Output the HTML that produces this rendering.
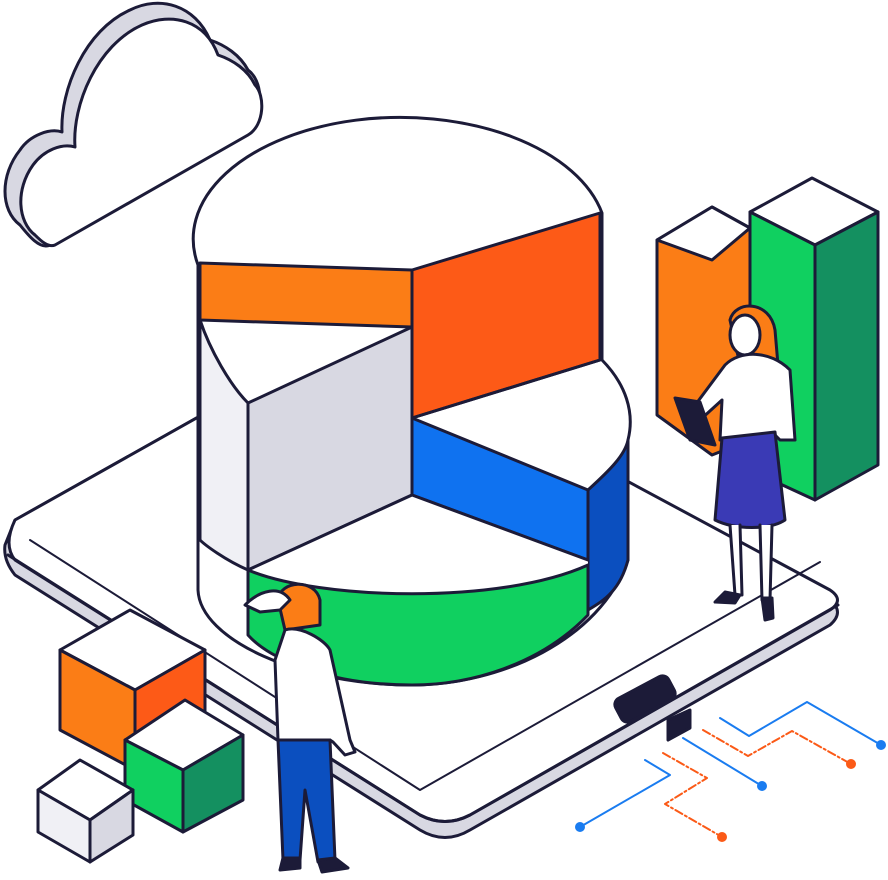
<!DOCTYPE html>
<html><head><meta charset="utf-8"><style>html,body{margin:0;padding:0;background:#fff}svg{display:block}</style></head>
<body>
<svg width="888" height="880" viewBox="0 0 888 880" xmlns="http://www.w3.org/2000/svg" stroke="#1c1b38" stroke-width="3" stroke-linejoin="round" stroke-linecap="round">
<!-- circuit lines -->
<g fill="none" stroke-width="2">
<polyline points="720,718 749,736 807,702 881,745" stroke="#1a7cf0"/>
<polyline points="683,738 762,786" stroke="#1a7cf0"/>
<polyline points="645,760 670,775 580,827" stroke="#1a7cf0"/>
<polyline points="703,730 748,756 792,731 851,764" stroke="#fb5a17" stroke-dasharray="8,3,2,3"/>
<polyline points="663,753 707,778 665,804 722,837" stroke="#fb5a17" stroke-dasharray="8,3,2,3"/>
</g>
<g stroke="none"><circle cx="881" cy="745" r="5" fill="#1a7cf0"/><circle cx="762" cy="786" r="5" fill="#1a7cf0"/><circle cx="580" cy="827" r="5" fill="#1a7cf0"/><circle cx="851" cy="764" r="5" fill="#fb5a17"/><circle cx="722" cy="837" r="5" fill="#fb5a17"/></g>
<!-- cloud -->
<path d="M20,225 C0,210 0,175 20,150 C30,135 50,128 62,132 C60,90 85,30 130,10 C160,-5 195,5 210,40 C225,45 240,55 248,70 C262,80 265,110 250,130 L50,245 C40,250 28,235 20,225 Z" fill="#d8d8e2"/>
<path d="M35,235 C18,222 15,190 33,165 C44,150 62,143 75,147 C72,105 97,45 142,25 C172,12 205,20 218,55 C233,60 248,70 255,85 C265,95 265,125 248,135 L55,245 C48,248 40,240 35,235 Z" fill="#fff"/>
<!-- tablet -->
<path d="M15,520 L330,343 Q350,333 370,343 L830,600 Q845,612 830,625 L470,830 Q445,845 420,830 L15,575 Q3,560 5,545 Z" fill="#d8d8e2"/>
<path d="M15,520 L330,343 Q350,333 370,343 L830,590 Q845,600 830,610 L470,815 Q445,828 420,815 L15,560 Q3,545 15,520 Z" fill="#fff"/>
<path d="M8,555 L420,815 Q445,828 470,815 L838,605" fill="none"/>
<path d="M30,540 L420,790 L820,562" fill="none" stroke-width="2"/>
<rect x="615" y="686" width="60" height="26" rx="7" transform="rotate(-28 645 699)" fill="#1c1b38"/>
<path d="M668,720 L690,710 L690,728 L668,740 Z" fill="#1c1b38"/>
<!-- pie cylinder body -->
<path d="M198,265 A204,120 0 0 1 602,213 L602,360 A215,125 0 0 1 628,440 L628,560 C600,640 500,685 412,685 C300,685 200,640 198,590 Z" fill="#fff"/>
<path d="M200,263 L412,270 L412,327 L200,320 Z" fill="#fb7d16"/>
<path d="M412,270 L600,213 L600,360 L412,418 Z" fill="#fd5a17"/>
<path d="M200,320 C210,350 230,385 248,403 L248,570 C225,560 205,545 200,540 Z" fill="#f0f0f5"/>
<path d="M248,403 L412,327 L412,495 L248,570 Z" fill="#d8d8e2"/>
<path d="M412,418 L588,490 L588,560 L412,495 Z" fill="#0f72f0"/>
<path d="M588,490 C610,470 625,455 628,440 L628,560 C620,590 605,600 588,610 Z" fill="#0b4fbf"/>
<path d="M248,570 L412,495 L588,560 L588,610 C540,665 470,685 412,685 C330,685 270,660 248,635 Z" fill="#fff" stroke="none"/>
<path d="M248,570 C320,600 500,605 588,565 L588,615 C540,665 470,685 412,685 C330,685 270,660 248,635 Z" fill="#10d060"/>
<path d="M248,570 L412,495 L588,560" fill="none"/>
<path d="M412,327 L412,495 M412,418 L600,360" fill="none"/>
<!-- bars -->
<path d="M657,240 L712,207 L750,228 L750,440 L712,455 L657,415 Z" fill="#fb7d16"/>
<path d="M657,240 L712,207 L750,228 L712,260 Z" fill="#fff"/>
<path d="M750,212 L812,178 L878,212 L815,245 Z" fill="#fff"/>
<path d="M750,212 L815,245 L815,500 L750,470 Z" fill="#10d060"/>
<path d="M815,245 L878,212 L878,465 L815,500 Z" fill="#149060"/>
<!-- woman -->
<path d="M730,320 C735,300 770,300 775,330 L778,365 L740,365 Z" fill="#fb7d16"/>
<ellipse cx="745" cy="335" rx="15" ry="20" fill="#fff"/>
<path d="M725,365 C740,350 770,350 790,370 L795,440 L780,440 L775,435 L720,440 L722,400 L700,420 L690,412 Z" fill="#fff"/>
<path d="M675,398 L700,402 L715,445 L690,440 Z" fill="#1c1b38"/>
<path d="M722,438 L775,432 L785,520 C770,530 735,530 715,520 Z" fill="#3a3ab5"/>
<path d="M730,525 L735,595 L742,595 L740,525 M760,525 L762,600 L770,600 L772,525" fill="#fff"/>
<path d="M725,592 L740,595 L735,603 L715,602 Z M762,598 L772,598 L773,618 L765,620 Z" fill="#1c1b38"/>
<!-- man -->
<path d="M278,600 C280,580 315,578 320,600 L320,625 L285,630 Z" fill="#fb7d16"/>
<path d="M245,605 C260,590 280,585 290,600 L280,610 L260,612 Z" fill="#fff"/>
<path d="M285,630 C300,625 325,640 330,650 L350,740 L355,752 L345,755 L333,742 L330,740 L278,740 L275,660 Z" fill="#fff"/>
<path d="M278,740 L330,740 L335,860 L318,862 L305,790 L300,860 L283,860 Z" fill="#0b4fbf"/>
<path d="M283,858 L300,858 L300,868 L280,870 Z M318,860 L335,858 L348,868 L322,872 Z" fill="#1c1b38"/>
<!-- cubes -->
<path d="M60,650 L130,610 L205,650 L135,690 Z" fill="#fff"/>
<path d="M60,650 L135,690 L135,770 L60,730 Z" fill="#fb7d16"/>
<path d="M135,690 L205,650 L205,730 L135,770 Z" fill="#fd5a17"/>
<path d="M125,740 L185,700 L243,735 L183,770 Z" fill="#fff"/>
<path d="M125,740 L183,770 L183,832 L125,800 Z" fill="#10d060"/>
<path d="M183,770 L243,735 L243,800 L183,832 Z" fill="#149060"/>
<path d="M38,790 L80,760 L133,790 L90,820 Z" fill="#fff"/>
<path d="M38,790 L90,820 L90,862 L38,832 Z" fill="#f0f0f5"/>
<path d="M90,820 L133,790 L133,835 L90,862 Z" fill="#d8d8e2"/>
</svg>
</body></html>
